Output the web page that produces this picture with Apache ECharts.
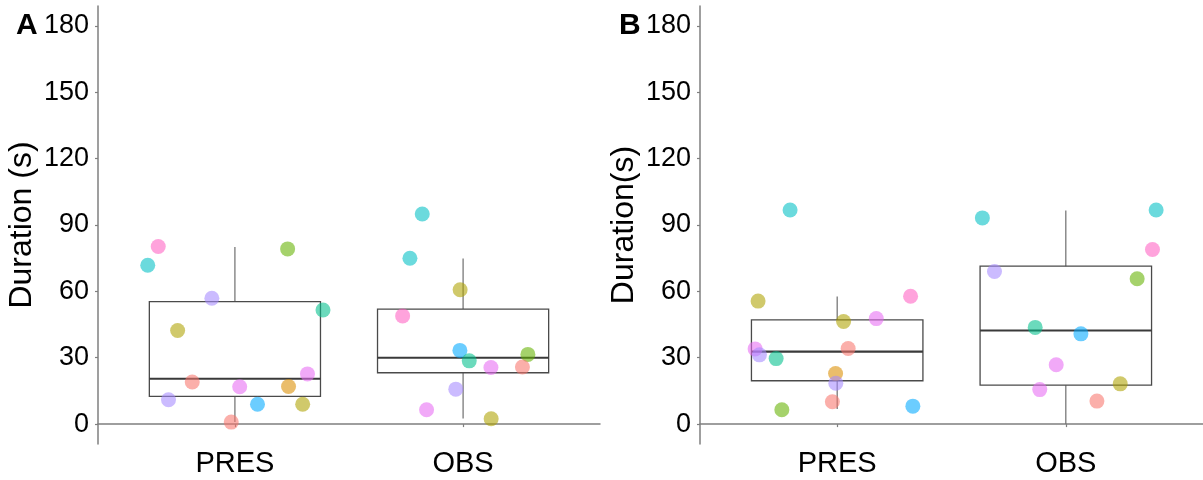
<!DOCTYPE html>
<html>
<head>
<meta charset="utf-8">
<script src="https://cdn.jsdelivr.net/npm/echarts@6/dist/echarts.min.js"></script>
<style>
  html, body { margin: 0; padding: 0; background: #fff; }
  #main { width: 1203px; height: 480px; }
</style>
</head>
<body>
<div id="main"></div>
<script>
// groups on the x axis
var groups = ['PRES', 'OBS']
var yTicks = [0, 30, 60, 90, 120, 150, 180]

// box stats: [low whisker, q1, median, q3, high whisker]
var boxA = [[1, 12.5, 20.5, 55.4, 80.0], [2.5, 23.2, 30.0, 52.0, 74.8]]
var boxB = [[6.8, 19.6, 32.8, 47.1, 57.7], [0, 17.6, 42.3, 71.4, 96.5]]

// jittered points: [x offset from group, duration, subject colour key]
var aPres = [
  [-0.336, 80.3, 'K'], [-0.382, 71.8, 'C'], [0.231, 79.2, 'G'], [-0.101, 56.9, 'V'],
  [0.386, 51.6, 'T'], [-0.251, 42.3, 'L'], [-0.187, 19.0, 'S'], [0.021, 16.9, 'P'],
  [0.235, 17.0, 'O'], [0.318, 22.7, 'P'], [-0.291, 11.0, 'V'], [0.099, 9.0, 'B'],
  [0.297, 9.0, 'L'], [-0.016, 0.9, 'S']
]
var aObs = [
  [-0.179, 95.0, 'C'], [-0.233, 75.0, 'C'], [-0.013, 60.7, 'L'], [-0.265, 48.9, 'K'],
  [-0.014, 33.3, 'B'], [0.027, 28.6, 'T'], [0.284, 31.5, 'G'], [0.122, 25.6, 'P'],
  [0.260, 25.8, 'S'], [-0.032, 15.8, 'V'], [-0.160, 6.5, 'P'], [0.123, 2.4, 'L']
]
var bPres = [
  [-0.206, 96.8, 'C'], [-0.346, 55.6, 'L'], [0.321, 57.8, 'K'], [0.028, 46.4, 'L'],
  [0.171, 47.7, 'P'], [-0.359, 34.0, 'P'], [-0.340, 31.3, 'V'], [-0.267, 29.6, 'T'],
  [0.048, 34.2, 'S'], [-0.007, 22.9, 'O'], [-0.006, 18.5, 'V'], [-0.021, 10.1, 'S'],
  [-0.242, 6.5, 'G'], [0.331, 8.1, 'B']
]
var bObs = [
  [-0.365, 93.2, 'C'], [0.395, 96.8, 'C'], [0.379, 78.9, 'K'], [-0.312, 69.0, 'V'],
  [0.312, 65.7, 'G'], [-0.134, 43.7, 'T'], [0.066, 40.8, 'B'], [-0.042, 26.8, 'P'],
  [-0.114, 15.6, 'P'], [0.238, 18.2, 'L'], [0.136, 10.4, 'S']
]

var palette = {
  S: '#F8766D', O: '#DB8E00', L: '#AEA200', G: '#64B200', T: '#00C08B',
  C: '#00BFC4', B: '#00A9FF', V: '#A58AFF', P: '#E76BF3', K: '#FF61C3'
}

var font = "'Liberation Sans', Arial, sans-serif"

function pts(list, g) {
  return list.map(function (p) {
    return { value: [g + 1 + p[0], p[1]], itemStyle: { color: palette[p[2]] } }
  })
}

function boxData(stats) {
  return stats.map(function (s, i) { return [i + 1].concat(s) })
}

function renderBox(params, api) {
  var c = api.value(0)
  var half = 0.375
  var lo = api.coord([c, api.value(1)])
  var q1 = api.coord([c, api.value(2)])
  var md = api.coord([c, api.value(3)])
  var q3 = api.coord([c, api.value(4)])
  var hi = api.coord([c, api.value(5)])
  var left = api.coord([c - half, 0])[0]
  var right = api.coord([c + half, 0])[0]
  return {
    type: 'group',
    children: [
      { type: 'line', shape: { x1: lo[0], y1: lo[1], x2: q1[0], y2: q1[1] }, style: { stroke: '#6e6e6e', lineWidth: 1.2 } },
      { type: 'line', shape: { x1: q3[0], y1: q3[1], x2: hi[0], y2: hi[1] }, style: { stroke: '#6e6e6e', lineWidth: 1.2 } },
      { type: 'rect', shape: { x: left, y: q3[1], width: right - left, height: q1[1] - q3[1] }, style: { fill: 'none', stroke: '#4a4a4a', lineWidth: 1.3 } },
      { type: 'line', shape: { x1: left, y1: md[1], x2: right, y2: md[1] }, style: { stroke: '#3a3a3a', lineWidth: 2.2 } }
    ]
  }
}

function xAxis(idx) {
  return {
    type: 'value', gridIndex: idx, min: 0.4, max: 2.6,
    axisLine: { show: true, lineStyle: { color: '#7f7f7f', width: 1.5 } },
    axisTick: { show: true, length: 3, customValues: [1, 2], lineStyle: { color: '#7f7f7f', width: 1.2 } },
    axisLabel: {
      customValues: [1, 2], margin: 5, color: '#000', fontSize: 29, fontFamily: font,
      formatter: function (v) { return groups[Math.round(v) - 1] }
    },
    splitLine: { show: false }
  }
}

function yAxis(idx, name) {
  return {
    type: 'value', gridIndex: idx, min: -9, max: 189,
    name: name, nameLocation: 'middle', nameGap: 60,
    nameTextStyle: { color: '#000', fontSize: 32, fontFamily: font },
    axisLine: { show: true, lineStyle: { color: '#7f7f7f', width: 1.5 } },
    axisTick: { show: true, length: 3, customValues: yTicks, lineStyle: { color: '#7f7f7f', width: 1.2 } },
    axisLabel: { customValues: yTicks, margin: 9, color: '#000', fontSize: 27, fontFamily: font },
    splitLine: { show: false }
  }
}

var chart = echarts.init(document.getElementById('main'))
var option = {
  animation: false,
  backgroundColor: '#fff',
  grid: [
    { left: 98, top: 6, width: 502, height: 438 },
    { left: 700, top: 6, width: 503, height: 438 }
  ],
  xAxis: [xAxis(0), xAxis(1)],
  yAxis: [yAxis(0, 'Duration (s)'), yAxis(1, 'Duration(s)')],
  graphic: [
    { type: 'text', left: 16, top: 11, style: { text: 'A', fontSize: 30, fontWeight: 'bold', fontFamily: font, fill: '#000' } },
    { type: 'text', left: 619, top: 11, style: { text: 'B', fontSize: 30, fontWeight: 'bold', fontFamily: font, fill: '#000' } }
  ],
  series: [
    { type: 'custom', xAxisIndex: 0, yAxisIndex: 0, renderItem: renderBox, data: boxData(boxA), z: 1 },
    { type: 'custom', xAxisIndex: 1, yAxisIndex: 1, renderItem: renderBox, data: boxData(boxB), z: 1 },
    { type: 'scatter', xAxisIndex: 0, yAxisIndex: 0, symbolSize: 15, itemStyle: { opacity: 0.58 }, data: pts(aPres, 0).concat(pts(aObs, 1)), z: 2 },
    { type: 'scatter', xAxisIndex: 1, yAxisIndex: 1, symbolSize: 15, itemStyle: { opacity: 0.58 }, data: pts(bPres, 0).concat(pts(bObs, 1)), z: 2 }
  ]
}
chart.setOption(option)
</script>
</body>
</html>
